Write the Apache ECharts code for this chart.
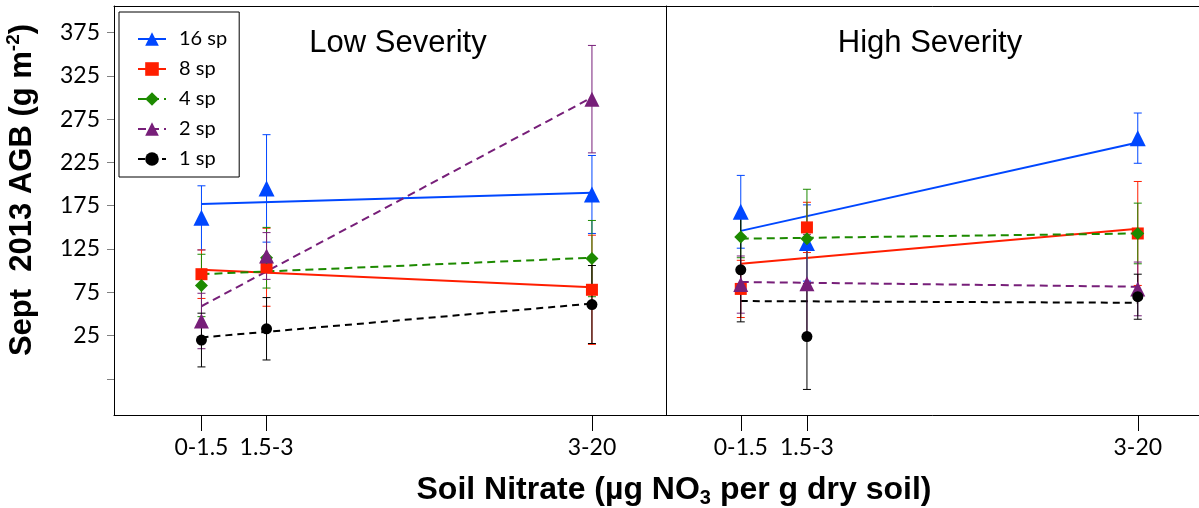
<!DOCTYPE html>
<html>
<head>
<meta charset="utf-8">
<script src="https://cdn.jsdelivr.net/npm/echarts@6/dist/echarts.min.js"></script>
<style>
  html, body { margin: 0; padding: 0; background: #fff; }
  #chart { width: 1199px; height: 508px; }
</style>
</head>
<body>
<div id="chart"></div>
<script>
// Nitrate classes and where they sit on the x scale
const nitrateClasses = ['0-1.5', '1.5-3', '3-20'];
const classPositions = [1, 2, 7];
const speciesLevels = ['16 sp', '8 sp', '4 sp', '2 sp', '1 sp'];
const yTickValues = [-25, 25, 75, 125, 175, 225, 275, 325, 375];
const yLabelValues = [25, 75, 125, 175, 225, 275, 325, 375];

// Low severity: mean AGB per class, error (+/-), fitted line at 0-1.5 and 3-20
const lowMeans  = [[161, 195, 188], [96, 104, 78], [83, 115, 114], [42, 117, 298], [20, 33, 61]];
const lowErrors = [[37, 62, 45], [28, 45, 63], [36, 35, 44], [32, 27, 62], [31, 36, 45]];
const lowFits   = [[177, 190], [101, 81], [96, 115], [59, 300], [23, 62]];

// High severity
const highMeans  = [[168, 132, 253], [79, 150, 143], [139, 137, 143], [84, 85, 79], [101, 24, 70]];
const highErrors = [[42, 44, 29], [33, 29, 60], [24, 57, 35], [33, 57, 31], [60, 61, 26]];
const highFits   = [[146, 248], [108, 148.5], [137, 143], [87, 81.5], [65, 63]];

// Styling per species richness level
const colors = ['#0047ff', '#ff1e00', '#1d8a00', '#771f79', '#000000'];
const symbols = ['triangle', 'rect', 'diamond', 'triangle', 'circle'];
const symbolSizes = [16, 12, 13, 15, 11];
const lineTypes = ['solid', 'solid', [8, 5], [8, 5], [7, 5]];

const tickFont = 'Lato, "Open Sans", sans-serif';
const titleFont = '"Liberation Sans", Arial, sans-serif';

function errorBarRenderer(color) {
  return function (params, api) {
    const x = api.value(0);
    const top = api.coord([x, api.value(2)]);
    const bot = api.coord([x, api.value(1)]);
    const half = 4;
    const style = { stroke: color, lineWidth: 1 };
    return {
      type: 'group',
      children: [
        { type: 'line', shape: { x1: top[0], y1: top[1], x2: bot[0], y2: bot[1] }, style: style },
        { type: 'line', shape: { x1: top[0] - half, y1: top[1], x2: top[0] + half, y2: top[1] }, style: style },
        { type: 'line', shape: { x1: bot[0] - half, y1: bot[1], x2: bot[0] + half, y2: bot[1] }, style: style }
      ]
    };
  };
}

function panelSeries(panel, means, errors, fits) {
  const out = [];
  speciesLevels.forEach(function (name, i) {
    out.push({
      name: name,
      type: 'line',
      xAxisIndex: panel, yAxisIndex: panel,
      data: [[classPositions[0], fits[i][0]], [classPositions[2], fits[i][1]]],
      symbol: symbols[i],
      showSymbol: false,
      itemStyle: { color: colors[i] },
      lineStyle: { color: colors[i], width: 2, type: lineTypes[i] },
      silent: true,
      z: 2
    });
  });
  speciesLevels.forEach(function (name, i) {
    out.push({
      name: name,
      type: 'custom',
      xAxisIndex: panel, yAxisIndex: panel,
      data: classPositions.map(function (x, k) {
        return [x, means[i][k] - errors[i][k], means[i][k] + errors[i][k]];
      }),
      renderItem: errorBarRenderer(colors[i]),
      itemStyle: { color: colors[i] },
      silent: true,
      z: 3
    });
  });
  speciesLevels.forEach(function (name, i) {
    out.push({
      name: name,
      type: 'scatter',
      xAxisIndex: panel, yAxisIndex: panel,
      data: classPositions.map(function (x, k) { return [x, means[i][k]]; }),
      symbol: symbols[i],
      symbolSize: symbolSizes[i],
      itemStyle: { color: colors[i], opacity: 1 },
      silent: true,
      z: 4
    });
  });
  return out;
}

function bottomAxis(grid, min, max) {
  return {
    type: 'value', gridIndex: grid, position: 'bottom', min: min, max: max,
    axisLine: { show: true, onZero: false, lineStyle: { color: '#000', width: 1 } },
    axisTick: { show: true, customValues: classPositions, length: 16, lineStyle: { color: '#000' } },
    axisLabel: {
      show: true, customValues: classPositions, margin: 21,
      formatter: function (v) { return nitrateClasses[classPositions.indexOf(v)]; },
      fontSize: 23, fontFamily: tickFont, color: '#000'
    },
    splitLine: { show: false }
  };
}

function topAxis(grid, min, max) {
  return {
    type: 'value', gridIndex: grid, position: 'top', min: min, max: max,
    axisLine: { show: true, onZero: false, lineStyle: { color: '#000', width: 1 } },
    axisTick: { show: false }, axisLabel: { show: false }, splitLine: { show: false }
  };
}

const chart = echarts.init(document.getElementById('chart'), null, { renderer: 'canvas' });
chart.setOption({
  animation: false,
  backgroundColor: '#fff',
  grid: [
    { left: 114, width: 552, top: 6, bottom: 93, outerBoundsMode: 'none' },
    { left: 666, width: 540, top: 6, bottom: 93, outerBoundsMode: 'none' }
  ],
  xAxis: [
    bottomAxis(0, -0.344, 8.138),
    bottomAxis(1, -0.13, 8.031),
    topAxis(0, -0.344, 8.138),
    topAxis(1, -0.13, 8.031)
  ],
  yAxis: [
    {
      type: 'value', gridIndex: 0, min: -66.5, max: 405.5,
      axisLine: { show: true, onZero: false, lineStyle: { color: '#000', width: 1 } },
      axisTick: { show: true, customValues: yTickValues, length: 7, lineStyle: { color: '#808080' } },
      axisLabel: { show: true, customValues: yLabelValues, margin: 14, fontSize: 23, fontFamily: tickFont, color: '#000' },
      splitLine: { show: false }
    },
    {
      type: 'value', gridIndex: 1, min: -66.5, max: 405.5,
      axisLine: { show: true, onZero: false, lineStyle: { color: '#000', width: 1 } },
      axisTick: { show: false }, axisLabel: { show: false }, splitLine: { show: false }
    }
  ],
  legend: {
    data: speciesLevels,
    orient: 'vertical',
    left: 119, top: 12,
    padding: [17, 12, 8, 18],
    itemGap: 10,
    itemWidth: 28,
    itemHeight: 17,
    borderColor: '#000', borderWidth: 1, borderRadius: 0,
    backgroundColor: '#fff',
    selectedMode: false,
    textStyle: { fontSize: 20, fontFamily: tickFont, color: '#000', padding: [0, 0, 0, 8] }
  },
  graphic: [
    { type: 'text', x: 398, y: 43, z: 10,
      style: { text: 'Low Severity', fontSize: 31, fontFamily: titleFont, fill: '#000', align: 'center', verticalAlign: 'middle' } },
    { type: 'text', x: 930, y: 43, z: 10,
      style: { text: 'High Severity', fontSize: 31, fontFamily: titleFont, fill: '#000', align: 'center', verticalAlign: 'middle' } },
    { type: 'text', x: 674, y: 490, z: 10,
      style: {
        text: 'Soil Nitrate (\u00b5g NO{sub|3} per g dry soil)',
        fontSize: 32, fontWeight: 'bold', fontFamily: titleFont, fill: '#000', align: 'center', verticalAlign: 'middle',
        rich: { sub: { fontSize: 20, fontWeight: 'bold', fontFamily: titleFont, padding: [17, 0, 0, 0] } }
      } },
    { type: 'text', x: 22, y: 190, rotation: Math.PI / 2, z: 10,
      style: {
        text: 'Sept  2013 AGB (g m{sup|-2})',
        fontSize: 31, fontWeight: 'bold', fontFamily: titleFont, fill: '#000', align: 'center', verticalAlign: 'middle',
        rich: { sup: { fontSize: 19, fontWeight: 'bold', fontFamily: titleFont, padding: [0, 0, 16, 0] } }
      } }
  ],
  series: [].concat(
    panelSeries(0, lowMeans, lowErrors, lowFits),
    panelSeries(1, highMeans, highErrors, highFits)
  )
});
</script>
</body>
</html>
